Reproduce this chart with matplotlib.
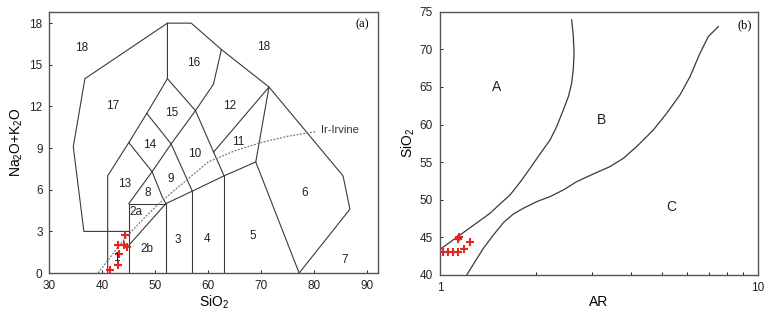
import matplotlib
matplotlib.use("Agg")
import matplotlib.pyplot as plt
from matplotlib.ticker import NullFormatter, FixedLocator, FixedFormatter

plt.rcParams["font.family"] = ["Liberation Sans", "DejaVu Sans"]
plt.rcParams["mathtext.default"] = "regular"

# --- (a) TAS plutonic fields: boundary polylines (SiO2, Na2O+K2O) ---
tas_outer = [(45, 3), (36.5, 3), (34.5, 9.1), (36.7, 14), (52.3, 18), (56.8, 18),
             (62.5, 16.1), (71.5, 13.4), (85.5, 7), (86.8, 4.6), (77.2, 0)]
tas_lines = [
    [(41, 0), (41, 7), (45, 9.4), (48.4, 11.5), (52.3, 14), (52.3, 18)],
    [(45, 9.4), (49.4, 7.3), (51.3, 5.5), (52, 5)],
    [(48.4, 11.5), (53, 9.3), (57, 5.9)],
    [(45, 5), (49.4, 7.3), (53, 9.3), (57.6, 11.7), (52.3, 14)],
    [(57.6, 11.7), (61, 13.6), (62.5, 16.1)],
    [(57.6, 11.7), (63, 7)],
    [(61, 8.7), (71.5, 13.4), (69, 8)],
    [(45, 2), (52, 5), (57, 5.9), (63, 7), (69, 8), (77.2, 0)],
    [(45, 0), (45, 5), (52, 5)],
    [(52, 0), (52, 5)],
    [(57, 0), (57, 5.9)],
    [(63, 0), (63, 7)],
]
# Irvine & Baragar Trennlinie
irvine_x = [39.2, 40, 43.2, 45, 48, 50, 53.7, 55, 60, 65, 70, 75, 80.5]
irvine_y = [0, 0.4, 2, 2.8, 4, 4.75, 6, 6.4, 8, 8.8, 9.4, 9.85, 10.2]

field_names = ["18", "18", "16", "17", "15", "12", "14", "10", "11", "9", "13",
               "8", "6", "2a", "3", "4", "5", "2b", "1", "7"]
field_x = [36.0, 70.4, 57.2, 42.0, 53.1, 64.1, 49.0, 57.5, 65.7, 52.9, 44.2,
           48.5, 78.3, 46.4, 54.2, 59.8, 68.5, 48.5, 42.6, 85.9]
field_y = [16.2, 16.3, 15.1, 12.05, 11.5, 12.05, 9.2, 8.6, 9.45, 6.8, 6.4,
           5.8, 5.75, 4.4, 2.4, 2.45, 2.65, 1.75, 1.1, 0.95]

# Proben
sio2_a = [44.2, 43.0, 44.0, 44.6, 43.2, 43.0, 41.4]
alk_a = [2.75, 2.05, 2.05, 1.85, 1.35, 0.6, 0.2]

# --- (b) AR vs SiO2 ---
ab_x = [1.0, 1.128, 1.273, 1.436, 1.544, 1.66, 1.785, 1.919, 2.063, 2.218, 2.327,
        2.442, 2.533, 2.594, 2.626, 2.639, 2.626, 2.594]
ab_y = [43.41, 45.0, 46.6, 48.2, 49.44, 50.64, 52.32, 54.18, 56.09, 57.95, 59.72,
        61.94, 63.71, 65.49, 67.48, 69.48, 71.7, 73.9]
bc_x = [1.213, 1.288, 1.369, 1.472, 1.582, 1.701, 1.828, 2.014, 2.218, 2.442, 2.691,
        3.035, 3.424, 3.772, 4.153, 4.687, 5.163, 5.684, 6.113, 6.57, 6.98, 7.504]
bc_y = [40.0, 41.77, 43.55, 45.32, 46.96, 48.11, 48.87, 49.75, 50.42, 51.3, 52.41,
        53.43, 54.41, 55.51, 57.07, 59.28, 61.5, 63.94, 66.37, 69.48, 71.7, 73.02]

ar_b = [1.02, 1.06, 1.10, 1.14, 1.19, 1.24, 1.14, 1.145]
sio2_b = [43.0, 43.0, 43.0, 43.0, 43.5, 44.4, 44.8, 45.1]

region_names = ["A", "B", "C"]
region_x = [1.51, 3.22, 5.34]
region_y = [65.0, 60.6, 49.1]

line_col = "#3a3a3a"
red = "#e3261e"

fig = plt.figure(figsize=(7.78, 3.22), dpi=100)
ax1 = fig.add_axes([0.0636, 0.152, 0.4222, 0.8106])
ax2 = fig.add_axes([0.5656, 0.146, 0.4087, 0.8177])

# ---------- Diagramm (a) ----------
ax1.plot([p[0] for p in tas_outer], [p[1] for p in tas_outer], color=line_col, lw=0.8)
for seg in tas_lines:
    ax1.plot([p[0] for p in seg], [p[1] for p in seg], color=line_col, lw=0.8)
ax1.plot(irvine_x, irvine_y, color="#777777", lw=0.9, ls=(0, (1.5, 1.2)))
ax1.text(81.3, 10.3, "Ir-Irvine", fontsize=8, color="#333333", va="center")

for name, x, y in zip(field_names, field_x, field_y):
    ax1.text(x, y, name, fontsize=8.5, ha="center", va="center", color="#222222")

ax1.plot(sio2_a, alk_a, ls="none", marker="+", ms=6, mew=1.5, color=red)

ax1.set_xlim(30, 92.1)
ax1.set_ylim(0, 18.8)
ax1.set_xticks([30, 40, 50, 60, 70, 80, 90])
ax1.set_yticks([0, 3, 6, 9, 12, 15, 18])
ax1.set_xlabel("SiO$_2$", fontsize=10, labelpad=1)
ax1.set_ylabel("Na$_2$O+K$_2$O", fontsize=10, labelpad=3)
ax1.text(89.1, 17.9, "(a)", fontsize=9, family=["Liberation Serif", "DejaVu Serif"],
         ha="center", va="center")

# ---------- Diagramm (b) ----------
ax2.plot(ab_x, ab_y, color=line_col, lw=0.9)
ax2.plot(bc_x, bc_y, color=line_col, lw=0.9)
for name, x, y in zip(region_names, region_x, region_y):
    ax2.text(x, y, name, fontsize=10, ha="center", va="center", color="#222222")
ax2.plot(ar_b, sio2_b, ls="none", marker="+", ms=6, mew=1.5, color=red)

ax2.set_xscale("log")
ax2.set_xlim(1, 10)
ax2.set_ylim(40, 75)
ax2.xaxis.set_major_locator(FixedLocator([1, 10]))
ax2.xaxis.set_major_formatter(FixedFormatter(["1", "10"]))
ax2.xaxis.set_minor_locator(FixedLocator([2, 3, 4, 5, 6, 7, 8, 9]))
ax2.xaxis.set_minor_formatter(NullFormatter())
ax2.set_yticks([40, 45, 50, 55, 60, 65, 70, 75])
ax2.set_xlabel("AR", fontsize=10, labelpad=1)
ax2.set_ylabel("SiO$_2$", fontsize=10, labelpad=2)
ax2.text(9.1, 73.2, "(b)", fontsize=9, family=["Liberation Serif", "DejaVu Serif"],
         ha="center", va="center")

for ax in (ax1, ax2):
    for sp in ax.spines.values():
        sp.set_color("#555555")
        sp.set_linewidth(1.0)
    ax.tick_params(which="both", direction="in", length=2.5, width=0.7,
                   labelsize=8.5, colors="#222222", pad=5)
    ax.tick_params(which="minor", length=2)

fig.savefig("out.png", dpi=100)
